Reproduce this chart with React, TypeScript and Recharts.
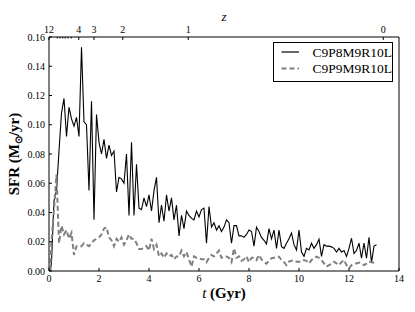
import React from 'react';
import { LineChart, Line, XAxis, YAxis, Legend } from 'recharts';

const timeGyr = [
  0.05,
  0.1, 0.2, 0.3, 0.4, 0.5, 0.6, 0.7, 0.8, 0.9, 1.0,
  1.1, 1.2, 1.3, 1.4, 1.5, 1.6, 1.7, 1.8, 1.9, 2.0,
  2.1, 2.2, 2.3, 2.4, 2.5, 2.6, 2.7, 2.8, 2.9, 3.0,
  3.1, 3.2, 3.3, 3.4, 3.5, 3.6, 3.7, 3.8, 3.9, 4.0,
  4.1, 4.2, 4.3, 4.4, 4.5, 4.6, 4.7, 4.8, 4.9, 5.0,
  5.1, 5.2, 5.3, 5.4, 5.5, 5.6, 5.7, 5.8, 5.9, 6.0,
  6.1, 6.2, 6.3, 6.4, 6.5, 6.6, 6.7, 6.8, 6.9, 7.0,
  7.1, 7.2, 7.3, 7.4, 7.5, 7.6, 7.7, 7.8, 7.9, 8.0,
  8.1, 8.2, 8.3, 8.4, 8.5, 8.6, 8.7, 8.8, 8.9, 9.0,
  9.1, 9.2, 9.3, 9.4, 9.5, 9.6, 9.7, 9.8, 9.9, 10.0,
  10.1, 10.2, 10.3, 10.4, 10.5, 10.6, 10.7, 10.8, 10.9, 11.0,
  11.1, 11.2, 11.3, 11.4, 11.5, 11.6, 11.7, 11.8, 11.9, 12.0,
  12.1, 12.2, 12.3, 12.4, 12.5, 12.6, 12.7, 12.8, 12.9, 13.0,
  13.1,
];

const sfrC9P8M9R10L = [
  0.0,
  0.006, 0.048, 0.055, 0.082, 0.108, 0.118, 0.092, 0.112, 0.104, 0.099,
  0.105, 0.092, 0.153, 0.102, 0.1, 0.055, 0.116, 0.035, 0.107, 0.088,
  0.08, 0.09, 0.077, 0.086, 0.079, 0.082, 0.054, 0.064, 0.063, 0.06,
  0.08, 0.038, 0.088, 0.038, 0.073, 0.043, 0.042, 0.05, 0.044, 0.052,
  0.041, 0.055, 0.064, 0.033, 0.045, 0.034, 0.052, 0.041, 0.05, 0.035,
  0.045, 0.024, 0.038, 0.029, 0.041, 0.038, 0.036, 0.035, 0.041, 0.037,
  0.042, 0.043, 0.019, 0.044, 0.03, 0.033, 0.028, 0.031, 0.027, 0.03,
  0.035, 0.033, 0.019, 0.031, 0.031, 0.024, 0.024, 0.023, 0.025, 0.028,
  0.027, 0.017, 0.03, 0.027, 0.023, 0.021, 0.0185, 0.029, 0.022, 0.028,
  0.0155, 0.028, 0.0167, 0.0155, 0.019, 0.022, 0.026, 0.018, 0.0144, 0.028,
  0.013, 0.01, 0.0155, 0.0144, 0.019, 0.0155, 0.018, 0.0217, 0.01, 0.018,
  0.017, 0.017, 0.0165, 0.0155, 0.013, 0.0155, 0.013, 0.014, 0.01, 0.0155,
  0.0224, 0.012, 0.014, 0.019, 0.0087, 0.019, 0.0087, 0.023, 0.0057, 0.017,
  0.018,
];

const sfrC9P9M9R10L = [
  0.0,
  0.02, 0.042, 0.066, 0.019, 0.031, 0.025, 0.028, 0.022, 0.026, 0.011,
  0.017, 0.017, 0.017, 0.019, 0.018, 0.017, 0.019, 0.021, 0.022, 0.023,
  0.025, 0.029, 0.03, 0.023, 0.021, 0.017, 0.022, 0.02, 0.023, 0.018,
  0.021, 0.025, 0.022, 0.022, 0.019, 0.015, 0.015, 0.016, 0.017, 0.014,
  0.022, 0.015, 0.018, 0.01, 0.012, 0.009, 0.012, 0.01, 0.011, 0.008,
  0.01, 0.01, 0.014, 0.01, 0.013, 0.008, 0.003, 0.01, 0.009, 0.009,
  0.008, 0.008, 0.006, 0.009, 0.011, 0.01, 0.012, 0.014, 0.009, 0.01,
  0.01, 0.009, 0.006, 0.0155, 0.009, 0.01, 0.007, 0.008, 0.01, 0.006,
  0.009, 0.009, 0.0075, 0.011, 0.008, 0.0064, 0.005, 0.007, 0.0087, 0.009,
  0.0098, 0.0098, 0.0075, 0.006, 0.004, 0.0064, 0.007, 0.0075, 0.0064, 0.0064,
  0.0064, 0.0075, 0.007, 0.0052, 0.0075, 0.0087, 0.0098, 0.009, 0.0075, 0.0052,
  0.003, 0.004, 0.005, 0.0064, 0.0052, 0.004, 0.006, 0.0075, 0.004, 0.0018,
  0.004, 0.005, 0.0052, 0.0057, 0.005, 0.004, 0.005, 0.0064, 0.006, 0.0057,
  0.006,
];

const seriesNames = ['C9P8M9R10L', 'C9P9M9R10L'];
const tTicks = [0, 2, 4, 6, 8, 10, 12, 14];
const sfrTicks = [0, 0.02, 0.04, 0.06, 0.08, 0.1, 0.12, 0.14, 0.16];
const zMajorTimes = [0, 1.19, 1.8, 2.95, 5.57, 13.37];
const zMajorLabels = ['12', '4', '3', '2', '1', '0'];
const zMinorTimes = [0.33, 0.44, 0.55, 0.65, 0.76, 0.89];

const data = timeGyr.map((t, i) => ({
  t,
  a: sfrC9P8M9R10L[i],
  b: sfrC9P9M9R10L[i],
}));

const FONT = 'Liberation Serif, serif';
const DASHED_COLOR = '#808080';

const ZTick = (props: any) => {
  const { x, y, payload } = props;
  const axisY = y + 4;
  const idx = zMajorTimes.indexOf(payload.value);
  if (idx >= 0) {
    return (
      <g>
        <line x1={x} x2={x} y1={axisY} y2={axisY + 3} stroke="#000" strokeWidth={1} />
        <text x={x} y={y} textAnchor="middle" fontSize={10} style={{ fontFamily: FONT }} fill="#000">
          {zMajorLabels[idx]}
        </text>
      </g>
    );
  }
  return <line x1={x} x2={x} y1={axisY} y2={axisY + 1.5} stroke="#000" strokeWidth={1} />;
};

const XLabel = (props: any) => {
  const vb = props.viewBox || {};
  return (
    <text
      x={vb.x + vb.width / 2}
      y={vb.y + 27}
      textAnchor="middle"
      fontSize={15}
      style={{ fontFamily: FONT }}
      fill="#000"
    >
      <tspan fontStyle="italic">t</tspan>
      <tspan fontWeight="bold"> (Gyr)</tspan>
    </text>
  );
};

const ZLabel = (props: any) => {
  const vb = props.viewBox || {};
  return (
    <text
      x={vb.x + vb.width / 2}
      y={21}
      textAnchor="middle"
      fontSize={13}
      fontStyle="italic"
      style={{ fontFamily: FONT }}
      fill="#000"
    >
      z
    </text>
  );
};

const YLabel = (props: any) => {
  const vb = props.viewBox || {};
  const cx = vb.x + 19;
  const cy = vb.y + vb.height / 2;
  return (
    <text
      x={cx}
      y={cy}
      textAnchor="middle"
      fontSize={15}
      fontWeight="bold"
      style={{ fontFamily: FONT }}
      fill="#000"
      transform={`rotate(-90, ${cx}, ${cy})`}
    >
      SFR (M
      <tspan fontSize={10} dy={3}>⊙</tspan>
      <tspan dy={-3}>/yr)</tspan>
    </text>
  );
};

const LegendBox = () => (
  <div
    style={{
      width: 120,
      height: 40,
      boxSizing: 'border-box',
      border: '1px solid #000',
      background: '#fff',
    }}
  >
    <svg width={118} height={38} style={{ display: 'block' }}>
      <line x1={7.5} x2={25} y1={9} y2={9} stroke="#000" strokeWidth={1.2} />
      <text x={38.5} y={13.5} fontSize={13.5} style={{ fontFamily: FONT }} fill="#000">
        {seriesNames[0]}
      </text>
      <line
        x1={7.5}
        x2={25}
        y1={25.5}
        y2={25.5}
        stroke={DASHED_COLOR}
        strokeWidth={2}
        strokeDasharray="5 3"
      />
      <text x={38.5} y={30} fontSize={13.5} style={{ fontFamily: FONT }} fill="#000">
        {seriesNames[1]}
      </text>
    </svg>
  </div>
);

export default function App() {
  const tickStyle = { fontSize: 10, fill: '#000', style: { fontFamily: FONT } };
  return (
    <div style={{ position: 'absolute', left: 0, top: 0, background: '#fff', fontFamily: FONT }}>
      <LineChart
        width={415}
        height={312}
        data={data}
        margin={{ top: 0, right: 0, bottom: 0, left: 0 }}
        style={{ fontFamily: FONT }}
      >
        <XAxis
          xAxisId="bottom"
          dataKey="t"
          type="number"
          domain={[0, 14]}
          ticks={tTicks}
          interval={0}
          orientation="bottom"
          height={41}
          tickSize={-3}
          tickMargin={7}
          tick={tickStyle}
          stroke="#000"
          axisLine={{ stroke: '#000' }}
          tickLine={{ stroke: '#000' }}
          label={<XLabel />}
        />
        <XAxis
          xAxisId="top"
          dataKey="t"
          type="number"
          domain={[0, 14]}
          ticks={[...zMajorTimes, ...zMinorTimes]}
          interval={0}
          orientation="top"
          height={37}
          tickSize={0}
          tickMargin={4}
          tickLine={false}
          tick={<ZTick />}
          axisLine={{ stroke: '#000' }}
          allowDataOverflow
          label={<ZLabel />}
        />
        <YAxis
          yAxisId="left"
          type="number"
          domain={[0, 0.16]}
          ticks={sfrTicks}
          interval={0}
          width={49}
          tickSize={-3}
          tickMargin={7}
          tick={tickStyle}
          tickFormatter={(v: number) => v.toFixed(2)}
          axisLine={{ stroke: '#000' }}
          tickLine={{ stroke: '#000' }}
          label={<YLabel />}
        />
        <YAxis
          yAxisId="right"
          orientation="right"
          type="number"
          domain={[0, 0.16]}
          ticks={sfrTicks}
          interval={0}
          width={16}
          tickSize={-3}
          tick={false}
          axisLine={{ stroke: '#000' }}
          tickLine={{ stroke: '#000' }}
        />
        <Line
          xAxisId="bottom"
          yAxisId="left"
          dataKey="a"
          name={seriesNames[0]}
          stroke="#000"
          strokeWidth={1.1}
          dot={false}
          activeDot={false}
          isAnimationActive={false}
        />
        <Line
          xAxisId="bottom"
          yAxisId="left"
          dataKey="b"
          name={seriesNames[1]}
          stroke={DASHED_COLOR}
          strokeWidth={2}
          strokeDasharray="5 3"
          dot={false}
          activeDot={false}
          isAnimationActive={false}
        />
        <Legend
          layout="vertical"
          align="center"
          verticalAlign="middle"
          wrapperStyle={{ left: 273, top: 42, width: 120, height: 40 }}
          content={<LegendBox />}
        />
      </LineChart>
    </div>
  );
}
